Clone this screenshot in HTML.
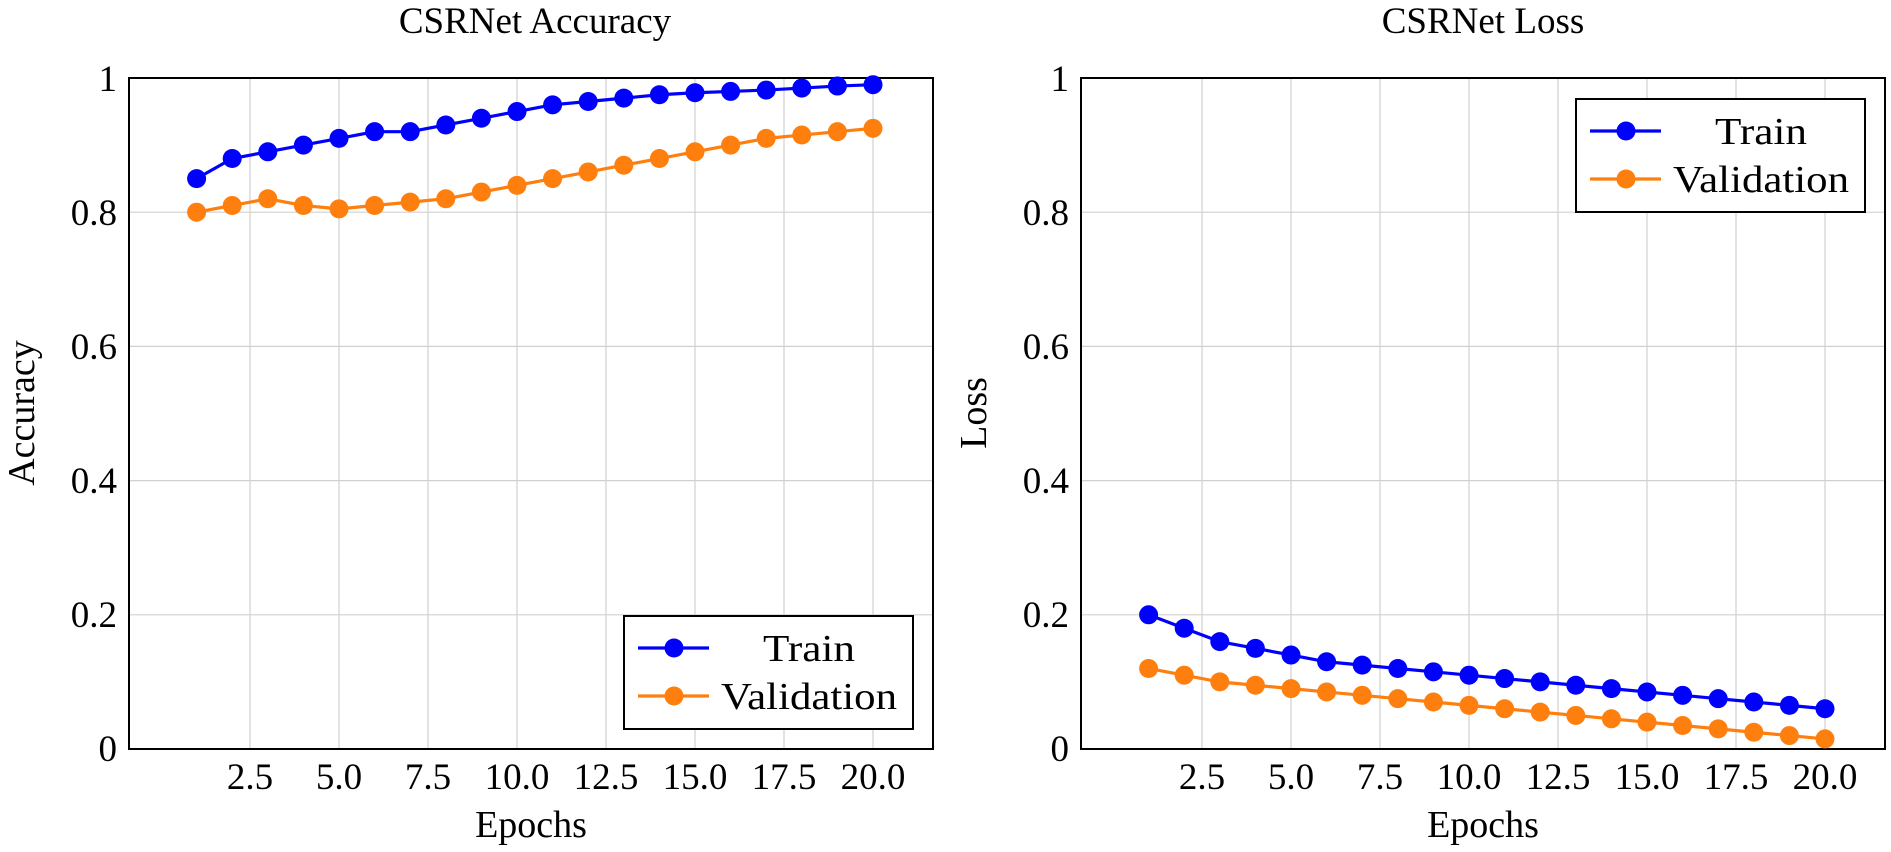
<!DOCTYPE html>
<html><head><meta charset="utf-8"><style>
html,body{margin:0;padding:0;background:#fff;width:1891px;height:852px;overflow:hidden}
text{font-family:"Liberation Serif",serif;fill:#000}
</style></head><body>
<svg id="s" width="1891" height="852" xmlns="http://www.w3.org/2000/svg">
<g id="grid" stroke="#d0d0d0" stroke-width="1.2"></g>
<g id="frames" fill="none" stroke="#000" stroke-width="2">
<rect x="129" y="78" width="804" height="671"/>
<rect x="1081" y="78" width="804" height="671"/>
</g>
<g id="series"></g>
<g font-size="37">
<text x="535" y="33" text-anchor="middle" font-size="37">CSRNet Accuracy</text>
<text x="1483" y="33" text-anchor="middle" font-size="37">CSRNet Loss</text>
<text x="531" y="837" text-anchor="middle" font-size="38">Epochs</text>
<text x="1483" y="837" text-anchor="middle" font-size="38">Epochs</text>
<text transform="translate(34,413) rotate(-90)" text-anchor="middle" font-size="38">Accuracy</text>
<text transform="translate(986,413) rotate(-90)" text-anchor="middle" font-size="38">Loss</text>
<g text-anchor="end">
<text x="117" y="91">1</text><text x="117" y="225">0.8</text><text x="117" y="359">0.6</text><text x="117" y="493">0.4</text><text x="117" y="627">0.2</text><text x="117" y="761">0</text>
<text x="1069" y="91">1</text><text x="1069" y="225">0.8</text><text x="1069" y="359">0.6</text><text x="1069" y="493">0.4</text><text x="1069" y="627">0.2</text><text x="1069" y="761">0</text>
</g>
<g text-anchor="middle">
<text x="250" y="789">2.5</text><text x="339" y="789">5.0</text><text x="428" y="789">7.5</text><text x="517" y="789">10.0</text><text x="606" y="789">12.5</text><text x="695" y="789">15.0</text><text x="784" y="789">17.5</text><text x="873" y="789">20.0</text>
<text x="1202" y="789">2.5</text><text x="1291" y="789">5.0</text><text x="1380" y="789">7.5</text><text x="1469" y="789">10.0</text><text x="1558" y="789">12.5</text><text x="1647" y="789">15.0</text><text x="1736" y="789">17.5</text><text x="1825" y="789">20.0</text>
</g>
</g>
<g id="legends"></g>
<g font-size="38">
<text x="1715" y="144" textLength="92" lengthAdjust="spacingAndGlyphs">Train</text>
<text x="1673" y="192" textLength="176" lengthAdjust="spacingAndGlyphs">Validation</text>
<text x="763" y="661" textLength="92" lengthAdjust="spacingAndGlyphs">Train</text>
<text x="721" y="709" textLength="176" lengthAdjust="spacingAndGlyphs">Validation</text>
</g>
</svg>
<script>
var NS="http://www.w3.org/2000/svg";
function el(p,t,a){var e=document.createElementNS(NS,t);for(var k in a)e.setAttribute(k,a[k]);p.appendChild(e);return e;}
var grid=document.getElementById("grid"),ser=document.getElementById("series"),leg=document.getElementById("legends");
var B="#0000ff",O="#ff7f0e";
var accT=[0.85,0.88,0.89,0.90,0.91,0.92,0.92,0.93,0.94,0.95,0.96,0.965,0.97,0.975,0.978,0.98,0.982,0.985,0.988,0.99];
var accV=[0.80,0.81,0.82,0.81,0.805,0.81,0.815,0.82,0.83,0.84,0.85,0.86,0.87,0.88,0.89,0.90,0.91,0.915,0.92,0.925];
var lT=[0.20,0.18,0.16,0.15,0.14,0.13,0.125,0.12,0.115,0.11,0.105,0.10,0.095,0.09,0.085,0.08,0.075,0.07,0.065,0.06];
var lV=[0.12,0.11,0.10,0.095,0.09,0.085,0.08,0.075,0.07,0.065,0.06,0.055,0.05,0.045,0.04,0.035,0.03,0.025,0.02,0.015];
function plot(ox,data){
  var X=function(x){return ox+250-129+(x-2.5)*35.6;},Y=function(y){return 749-y*671;};
  for(var i=1;i<=8;i++){var gx=X(2.5*i);el(grid,"line",{x1:gx,x2:gx,y1:78,y2:749});}
  for(var j=1;j<5;j++){var gy=Y(0.2*j);el(grid,"line",{x1:ox,x2:ox+804,y1:gy,y2:gy});}
  data.forEach(function(d){
    var pts=d[0].map(function(v,i){return X(i+1)+","+Y(v);}).join(" ");
    el(ser,"polyline",{points:pts,fill:"none",stroke:d[1],"stroke-width":3.2,"stroke-linejoin":"round"});
    d[0].forEach(function(v,i){el(ser,"circle",{cx:X(i+1),cy:Y(v),r:9.5,fill:d[1]});});
  });
}
plot(129,[[accT,B],[accV,O]]);
plot(1081,[[lT,B],[lV,O]]);
function legend(x,y){
  el(leg,"rect",{x:x,y:y,width:289,height:113,fill:"#fff",stroke:"#000","stroke-width":2});
  [[B,32],[O,80]].forEach(function(r){
    el(leg,"line",{x1:x+14,x2:x+85,y1:y+r[1],y2:y+r[1],stroke:r[0],"stroke-width":3.2});
    el(leg,"circle",{cx:x+50,cy:y+r[1],r:9.5,fill:r[0]});
  });
}
legend(1576,99);legend(624,616);
</script>
</body></html>
